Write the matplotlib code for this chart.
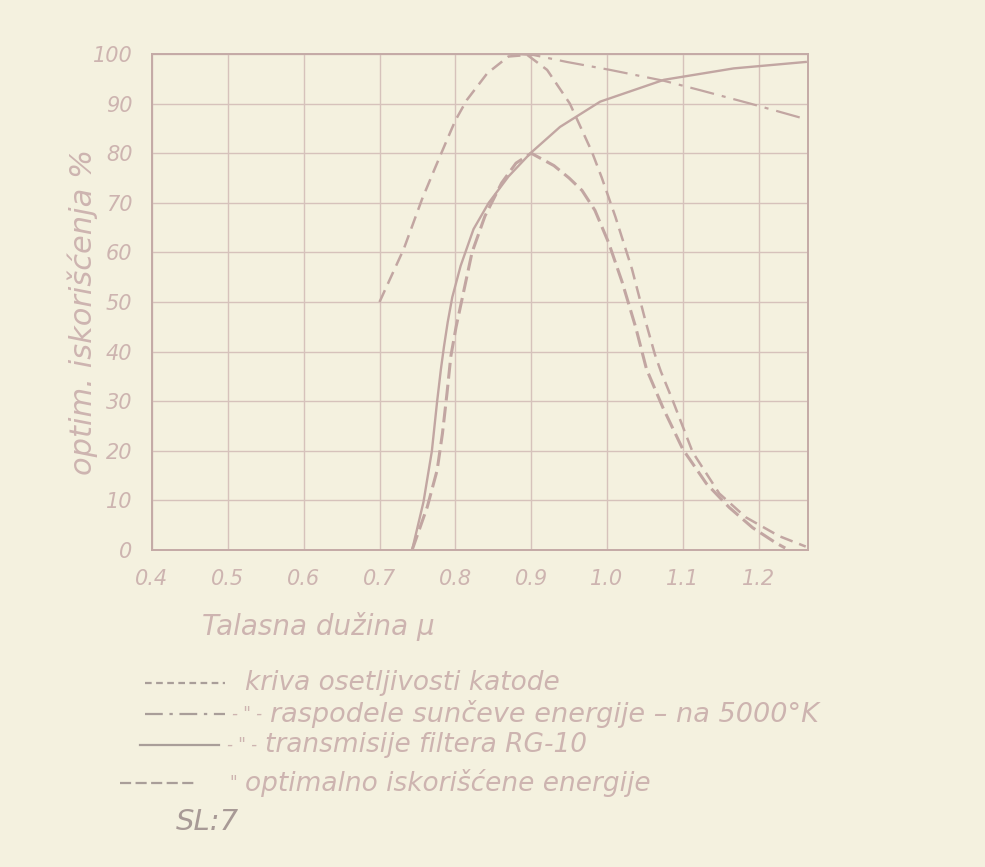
import matplotlib.pyplot as plt
from matplotlib.lines import Line2D

# kriva osetljivosti katode
kat_x = [0.700, 0.732, 0.756, 0.774, 0.789, 0.800, 0.815, 0.842, 0.870, 0.895, 0.921,
         0.951, 0.980, 0.993, 1.011, 1.033, 1.051, 1.063, 1.071, 1.087, 1.113, 1.148,
         1.183, 1.227, 1.262]
kat_y = [50, 60.7, 70.7, 77.3, 82.7, 86.6, 90.7, 96.1, 99.5, 99.8, 96.8,
         90.0, 80.3, 75.1, 67.2, 56.6, 46.0, 39.5, 36.0, 30.0, 19.7, 11.4,
         6.6, 2.8, 0.7]

# raspodele sunceve energije
sun_x = [0.880, 0.903, 0.947, 1.004, 1.075, 1.123, 1.189, 1.259]
sun_y = [100, 99.8, 98.4, 96.8, 94.6, 92.7, 90.0, 87.0]

# transmisije filtera RG-10
fil_x = [0.743, 0.758, 0.769, 0.776, 0.781, 0.785, 0.790, 0.796, 0.807, 0.824, 0.844,
         0.870, 0.899, 0.938, 0.991, 1.075, 1.167, 1.262]
fil_y = [0, 9.7, 19.9, 30.0, 36.5, 41.0, 46.0, 51.0, 57.3, 64.7, 70.0,
         75.3, 80.0, 85.3, 90.4, 94.8, 97.1, 98.4]

# optimalno iskoriscene energije
opt_x = [0.743, 0.763, 0.776, 0.783, 0.789, 0.794, 0.801, 0.809, 0.822, 0.839, 0.861,
         0.880, 0.900, 0.930, 0.950, 0.967, 0.984, 1.002, 1.020, 1.038, 1.052, 1.074,
         1.100, 1.131, 1.161, 1.192, 1.223, 1.235]
opt_y = [0, 8.7, 16.1, 23.5, 31.6, 39.0, 45.0, 50.7, 60.0, 67.3, 74.0,
         78.0, 80.0, 77.5, 75.0, 72.5, 68.5, 62.0, 54.0, 44.8, 36.5, 28.6,
         20.3, 13.4, 8.6, 4.5, 1.4, 0.4]

xticks = [0.4, 0.5, 0.6, 0.7, 0.8, 0.9, 1.0, 1.1, 1.2]
xticklabels = ['0.4', '0.5', '0.6', '0.7', '0.8', '0.9', '1.0', '1.1', '1.2']
yticks = [0, 10, 20, 30, 40, 50, 60, 70, 80, 90, 100]

bg = '#f4f1df'
ink = '#c2a6a2'
txt = '#cdb4b0'
grid = '#d6c2bb'

plt.rcParams['font.family'] = ['DejaVu Sans']
fig = plt.figure(figsize=(9.85, 8.67), dpi=100, facecolor=bg)
ax = fig.add_axes([0.1543, 0.3656, 0.6660, 0.5721])
ax.set_facecolor(bg)

ax.plot(kat_x, kat_y, color=ink, lw=1.8, dashes=(5.2, 2.8))
ax.plot(sun_x, sun_y, color=ink, lw=1.6, dashes=(11, 3.6, 1.8, 3.6))
ax.plot(fil_x, fil_y, color=ink, lw=1.7)
ax.plot(opt_x, opt_y, color=ink, lw=2.2, dashes=(5.2, 2.0))

ax.set_xlim(0.4, 1.265)
ax.set_ylim(0, 100)
ax.set_xticks(xticks)
ax.set_xticklabels(xticklabels)
ax.set_yticks(yticks)
ax.grid(True, color=grid, lw=1.0)
ax.tick_params(length=0, colors=txt, labelsize=15, pad=14)
for lab in ax.get_xticklabels() + ax.get_yticklabels():
    lab.set_fontstyle('italic')
for s in ax.spines.values():
    s.set_color('#c4aaa6')
    s.set_linewidth(1.4)

ax.set_xlabel('Talasna dužina μ', color=txt, fontsize=20, style='italic', labelpad=16,
              x=0.253)
fig.text(0.084, 0.64, 'optim. iskorišćenja %', rotation=90, color=txt, fontsize=22,
         style='italic', ha='center', va='center')

# legenda
rows = [
    (0.212, 0.147, 0.228, (3, 2), '', 'kriva osetljivosti katode', 0.249, 19),
    (0.177, 0.147, 0.228, (8, 3, 1.5, 3), '- " -', 'raspodele sunčeve energije – na 5000°K', 0.274, 19.5),
    (0.141, 0.142, 0.222, None, '- " -', 'transmisije filtera RG-10', 0.269, 19),
    (0.097, 0.122, 0.198, (5, 2), '"', 'optimalno iskorišćene energije', 0.249, 19),
]
for y, x0, x1, d, ditto, label, tx, fs in rows:
    ln = Line2D([x0, x1], [y, y], transform=fig.transFigure, color='#a99e99', lw=1.6)
    if d is not None:
        ln.set_dashes(d)
    fig.add_artist(ln)
    if ditto:
        fig.text(tx - 0.008, y, ditto, color=txt, fontsize=12, style='italic',
                 va='center', ha='right')
    fig.text(tx, y, label, color=txt, fontsize=fs, style='italic', va='center')

fig.text(0.178, 0.052, 'SL:7', color='#a89a96', fontsize=21, style='italic', va='center')

fig.savefig('out.png', dpi=100, facecolor=bg)
